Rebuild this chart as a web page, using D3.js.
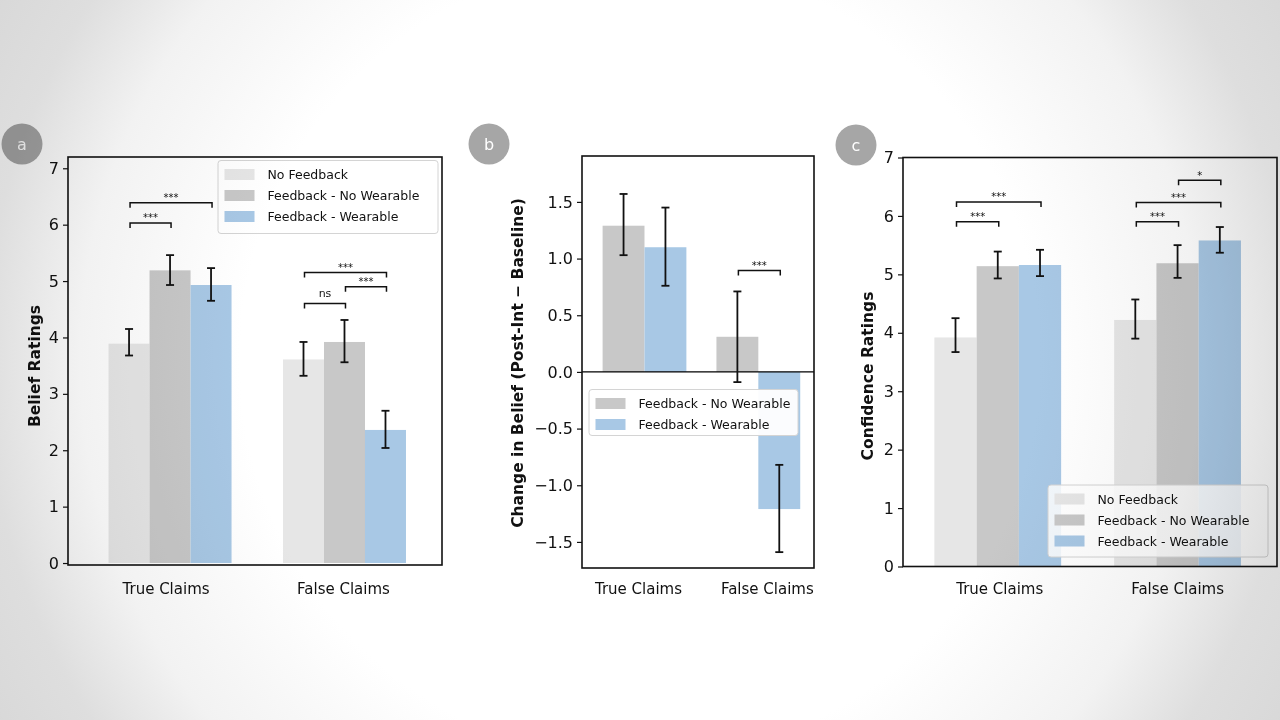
<!DOCTYPE html>
<html>
<head>
<meta charset="utf-8">
<script src="https://cdn.jsdelivr.net/npm/d3@7"></script>
<style>
  html, body { margin: 0; padding: 0; background: #fff; }
  svg { display: block; font-family: "DejaVu Sans", sans-serif; }
</style>
</head>
<body>
<div id="chart"></div>
<script>
// categories
const claims = ["True Claims", "False Claims"];
const conditions = ["No Feedback", "Feedback - No Wearable", "Feedback - Wearable"];

// (a) belief ratings: [claim][condition]
const beliefMean = [[3.89, 5.19, 4.93], [3.61, 3.92, 2.36]];
const beliefLow  = [[3.68, 4.93, 4.65], [3.32, 3.56, 2.04]];
const beliefHigh = [[4.15, 5.46, 5.23], [3.92, 4.31, 2.70]];
const beliefSig = [
  { claim: 0, from: 0, to: 1, y: 6.03, label: "***" },
  { claim: 0, from: 0, to: 2, y: 6.39, label: "***" },
  { claim: 1, from: 0, to: 1, y: 4.60, label: "ns" },
  { claim: 1, from: 1, to: 2, y: 4.90, label: "***" },
  { claim: 1, from: 0, to: 2, y: 5.15, label: "***" }
];

// (b) change in belief, only the two feedback conditions
const changeMean = [[1.29, 1.10], [0.31, -1.21]];
const changeLow  = [[1.03, 0.76], [-0.09, -1.59]];
const changeHigh = [[1.57, 1.45], [0.71, -0.82]];
const changeSig = [
  { claim: 1, from: 0, to: 1, y: 0.894, label: "***" }
];

// (c) confidence ratings
const confMean = [[3.92, 5.14, 5.16], [4.22, 5.19, 5.58]];
const confLow  = [[3.67, 4.93, 4.97], [3.90, 4.94, 5.37]];
const confHigh = [[4.25, 5.39, 5.42], [4.57, 5.50, 5.81]];
const confSig = [
  { claim: 0, from: 0, to: 1, y: 5.90, label: "***" },
  { claim: 0, from: 0, to: 2, y: 6.24, label: "***" },
  { claim: 1, from: 0, to: 1, y: 5.90, label: "***" },
  { claim: 1, from: 0, to: 2, y: 6.23, label: "***" },
  { claim: 1, from: 1, to: 2, y: 6.61, label: "*" }
];

const colors = { "No Feedback": "#e6e6e6", "Feedback - No Wearable": "#c8c8c8", "Feedback - Wearable": "#a8c8e5" };

const panels = [
  {
    badge: "a", badgeAt: [22, 144],
    frame: { x0: 68, x1: 442, y0: 157, y1: 565 },
    xDomain: [-0.585, 1.559], yDomain: [-0.035, 7.2],
    yTicks: d3.range(0, 8), fmt: d3.format("d"),
    series: conditions, barW: 0.235,
    mean: beliefMean, low: beliefLow, high: beliefHigh, sig: beliefSig,
    ylabel: "Belief Ratings", ylabelAt: [35, 366],
    labelShift: [-4, -1],
    legend: { x: 218, y: 160.5, w: 220, h: 73 }
  },
  {
    badge: "b", badgeAt: [489, 144],
    frame: { x0: 582, x1: 814, y0: 156, y1: 568 },
    xDomain: [-0.549, 1.489], yDomain: [-1.73, 1.905],
    yTicks: [-1.5, -1, -0.5, 0, 0.5, 1, 1.5], fmt: d3.format(".1f"),
    series: conditions.slice(1), barW: 0.368,
    mean: changeMean, low: changeLow, high: changeHigh, sig: changeSig,
    ylabel: "Change in Belief (Post-Int \u2212 Baseline)", ylabelAt: [518, 363],
    labelShift: [-6, 9], zeroLine: true,
    legend: { x: 589, y: 389.5, w: 209, h: 46 }
  },
  {
    badge: "c", badgeAt: [856, 145],
    frame: { x0: 903, x1: 1277, y0: 157.5, y1: 566.5 },
    xDomain: [-0.527, 1.553], yDomain: [0, 7],
    yTicks: d3.range(0, 8), fmt: d3.format("d"),
    series: conditions, barW: 0.235,
    mean: confMean, low: confLow, high: confHigh, sig: confSig,
    ylabel: "Confidence Ratings", ylabelAt: [868, 376],
    labelShift: [2, 0],
    legend: { x: 1048, y: 485, w: 220, h: 72, alpha: 0.85 }
  }
];

const width = 1280, height = 720;

const svg = d3.select("#chart").append("svg")
  .attr("width", width)
  .attr("height", height);

const defs = svg.append("defs");
const vig = defs.append("radialGradient")
  .attr("id", "vignette")
  .attr("gradientUnits", "userSpaceOnUse")
  .attr("cx", 640).attr("cy", 360).attr("r", 800);
vig.append("stop").attr("offset", 0).attr("stop-color", "#ffffff");
vig.append("stop").attr("offset", 0.5).attr("stop-color", "#ffffff");
vig.append("stop").attr("offset", 0.7).attr("stop-color", "#f2f2f2");
vig.append("stop").attr("offset", 0.82).attr("stop-color", "#dedede");
vig.append("stop").attr("offset", 1).attr("stop-color", "#d4d4d4");

svg.append("rect").attr("width", width).attr("height", height).attr("fill", "#fff");

function drawPanel(p) {
  const f = p.frame;
  const g = svg.append("g");
  const x = d3.scaleLinear().domain(p.xDomain).range([f.x0, f.x1]);
  const y = d3.scaleLinear().domain(p.yDomain).range([f.y1, f.y0]);
  const n = p.series.length;
  const bw = x(p.barW) - x(0);
  // center of the bar for series i of claim c
  const cx = (c, i) => x(c + (i - (n - 1) / 2) * p.barW);

  g.append("rect")
    .attr("x", f.x0).attr("y", f.y0)
    .attr("width", f.x1 - f.x0).attr("height", f.y1 - f.y0)
    .attr("fill", "#fff");

  // bars
  claims.forEach((cl, c) => {
    p.series.forEach((s, i) => {
      const v = p.mean[c][i];
      g.append("rect")
        .attr("x", cx(c, i) - bw / 2)
        .attr("y", y(Math.max(v, 0)))
        .attr("width", bw)
        .attr("height", Math.abs(y(v) - y(0)))
        .attr("fill", colors[s]);
    });
  });

  if (p.zeroLine) {
    g.append("line")
      .attr("x1", f.x0).attr("x2", f.x1)
      .attr("y1", y(0)).attr("y2", y(0))
      .attr("stroke", "#000").attr("stroke-width", 1.4);
  }

  // error bars
  claims.forEach((cl, c) => {
    p.series.forEach((s, i) => {
      const xc = cx(c, i);
      const lo = y(p.low[c][i]), hi = y(p.high[c][i]);
      const eb = g.append("g").attr("stroke", "#111").attr("stroke-width", 1.8);
      eb.append("line").attr("x1", xc).attr("x2", xc).attr("y1", lo).attr("y2", hi);
      eb.append("line").attr("x1", xc - 4).attr("x2", xc + 4).attr("y1", lo).attr("y2", lo);
      eb.append("line").attr("x1", xc - 4).attr("x2", xc + 4).attr("y1", hi).attr("y2", hi);
    });
  });

  // significance brackets
  p.sig.forEach(s => {
    const xa = cx(s.claim, s.from) + 1, xb = cx(s.claim, s.to) + 1;
    const yy = y(s.y);
    g.append("path")
      .attr("d", `M${xa},${yy + 5}V${yy}H${xb}V${yy + 5}`)
      .attr("fill", "none").attr("stroke", "#111").attr("stroke-width", 1.5);
    const isNs = s.label === "ns";
    g.append("text")
      .attr("x", (xa + xb) / 2)
      .attr("y", isNs ? yy - 7 : yy - 1.5)
      .attr("text-anchor", "middle")
      .attr("font-size", isNs ? 11 : 10)
      .attr("fill", "#111")
      .text(s.label);
  });

  // y axis
  const ax = g.append("g")
    .attr("transform", `translate(${f.x0},0)`)
    .call(d3.axisLeft(y).tickValues(p.yTicks).tickFormat(p.fmt).tickSize(5).tickPadding(4));
  ax.select(".domain").remove();
  ax.selectAll(".tick line").attr("stroke", "#111").attr("stroke-width", 1.2);
  ax.selectAll(".tick text").attr("font-size", 16).attr("fill", "#111")
    .attr("font-family", "DejaVu Sans");

  // x category labels
  claims.forEach((cl, c) => {
    g.append("text")
      .attr("x", x(c) + p.labelShift[c])
      .attr("y", 594)
      .attr("text-anchor", "middle")
      .attr("font-size", 15)
      .attr("fill", "#111")
      .text(cl);
  });

  // frame
  g.append("rect")
    .attr("x", f.x0).attr("y", f.y0)
    .attr("width", f.x1 - f.x0).attr("height", f.y1 - f.y0)
    .attr("fill", "none").attr("stroke", "#111").attr("stroke-width", 1.6);

  // y label
  g.append("text")
    .attr("transform", `translate(${p.ylabelAt[0]},${p.ylabelAt[1]}) rotate(-90)`)
    .attr("text-anchor", "middle")
    .attr("dominant-baseline", "central")
    .attr("font-size", 15.5)
    .attr("font-weight", "bold")
    .attr("fill", "#111")
    .text(p.ylabel);

  // legend
  const L = p.legend;
  const lg = g.append("g").attr("transform", `translate(${L.x},${L.y})`);
  lg.append("rect")
    .attr("width", L.w).attr("height", L.h).attr("rx", 3)
    .attr("fill", "#fff").attr("fill-opacity", L.alpha || 0.95)
    .attr("stroke", "#d4d4d4").attr("stroke-width", 1);
  p.series.forEach((s, i) => {
    const ry = 14 + i * 21;
    lg.append("rect")
      .attr("x", 6.5).attr("y", ry - 5.5)
      .attr("width", 30).attr("height", 11)
      .attr("fill", colors[s]);
    lg.append("text")
      .attr("x", 49.5).attr("y", ry)
      .attr("dominant-baseline", "central")
      .attr("font-size", 12.5)
      .attr("fill", "#111")
      .text(s);
  });

  // badge
  svg.append("circle")
    .attr("cx", p.badgeAt[0]).attr("cy", p.badgeAt[1]).attr("r", 20.5)
    .attr("fill", "#a6a6a6");
  svg.append("text")
    .attr("x", p.badgeAt[0]).attr("y", p.badgeAt[1])
    .attr("text-anchor", "middle")
    .attr("dominant-baseline", "central")
    .attr("font-size", 16)
    .attr("fill", "#fff")
    .text(p.badge);
}

panels.forEach(drawPanel);

// soft grey vignette over the whole slide
svg.append("rect")
  .attr("width", width).attr("height", height)
  .attr("fill", "url(#vignette)")
  .style("mix-blend-mode", "multiply")
  .attr("pointer-events", "none");
</script>
</body>
</html>
